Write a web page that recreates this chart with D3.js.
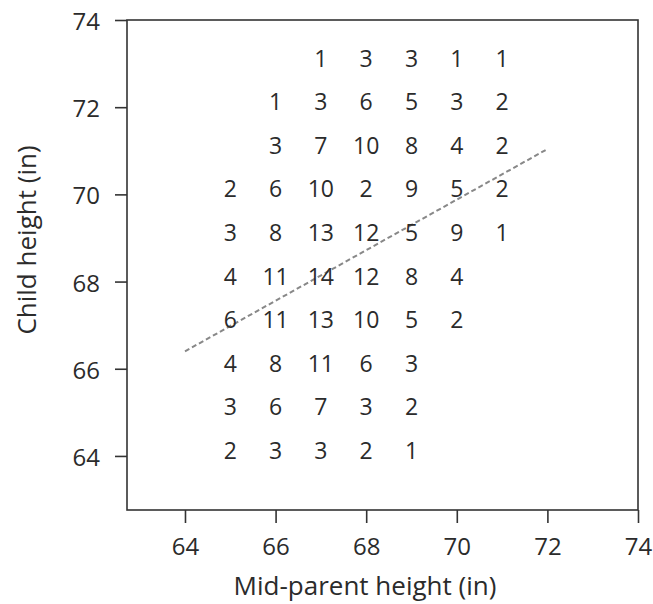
<!DOCTYPE html>
<html>
<head>
<meta charset="utf-8">
<script src="https://cdn.jsdelivr.net/npm/d3@7"></script>
<style>
  body { margin: 0; background: #fff; }
  text { font-family: "Open Sans", "Noto Sans", sans-serif; fill: #2b2b2b; }
</style>
</head>
<body>
<div id="chart"></div>
<script>
// Mid-parent heights (columns) and child heights (rows)
const parentHeights = [65, 66, 67, 68, 69, 70, 71];
const childHeights = [73, 72, 71, 70, 69, 68, 67, 66, 65, 64];

// Counts per row, top row first; null = no families in that cell
const counts = [
  [null, null, 1, 3, 3, 1, 1],
  [null, 1, 3, 6, 5, 3, 2],
  [null, 3, 7, 10, 8, 4, 2],
  [2, 6, 10, 2, 9, 5, 2],
  [3, 8, 13, 12, 5, 9, 1],
  [4, 11, 14, 12, 8, 4, null],
  [6, 11, 13, 10, 5, 2, null],
  [4, 8, 11, 6, 3, null, null],
  [3, 6, 7, 3, 2, null, null],
  [2, 3, 3, 2, 1, null, null]
];

const xTicks = [64, 66, 68, 70, 72, 74];
const yTicks = [64, 66, 68, 70, 72, 74];

// Fitted line end points
const fitLine = [
  { x: 64, y: 66.4 },
  { x: 72, y: 71.04 }
];

const W = 653, H = 604;
const margin = { top: 20, right: 15, bottom: 94, left: 127 };
const width = W - margin.left - margin.right;
const height = H - margin.top - margin.bottom;

const svg = d3.select("#chart")
  .append("svg")
  .attr("width", W)
  .attr("height", H);

const g = svg.append("g")
  .attr("transform", `translate(${margin.left},${margin.top})`);

const x = d3.scaleLinear().domain([62.72, 74]).range([0, width]);
const y = d3.scaleLinear().domain([62.76, 74]).range([height, 0]);

// Frame
g.append("rect")
  .attr("width", width)
  .attr("height", height)
  .attr("fill", "none")
  .attr("stroke", "#333")
  .attr("stroke-width", 1.6);

// Axes
const xAxis = g.append("g")
  .attr("transform", `translate(0,${height})`)
  .call(d3.axisBottom(x).tickValues(xTicks).tickSize(13).tickPadding(15));

const yAxis = g.append("g")
  .call(d3.axisLeft(y).tickValues(yTicks).tickSize(12).tickPadding(15));

[xAxis, yAxis].forEach(a => {
  a.select(".domain").remove();
  a.selectAll(".tick line").attr("stroke", "#333").attr("stroke-width", 1.6);
  a.selectAll(".tick text")
    .style("font-family", '"Open Sans", "Noto Sans", sans-serif')
    .style("font-size", "24px")
    .attr("fill", "#2b2b2b");
});
yAxis.selectAll(".tick text").attr("dy", "0.4em");

// Fitted dashed line
g.append("path")
  .datum(fitLine)
  .attr("d", d3.line().x(d => x(d.x)).y(d => y(d.y)))
  .attr("fill", "none")
  .attr("stroke", "#888")
  .attr("stroke-width", 2)
  .attr("stroke-dasharray", "5,3");

// Count labels
const cells = [];
counts.forEach((row, i) => {
  row.forEach((c, j) => {
    if (c !== null) cells.push({ px: parentHeights[j], cy: childHeights[i], n: c });
  });
});

g.selectAll("text.count")
  .data(cells)
  .enter()
  .append("text")
  .attr("class", "count")
  .attr("x", d => x(d.px))
  .attr("y", d => y(d.cy) - 6)
  .attr("text-anchor", "middle")
  .attr("dominant-baseline", "central")
  .style("font-size", "23px")
  .text(d => d.n);

// Axis titles
svg.append("text")
  .attr("x", 365)
  .attr("y", 595)
  .attr("text-anchor", "middle")
  .style("font-size", "26px")
  .text("Mid-parent height (in)");

svg.append("text")
  .attr("transform", `translate(36,240) rotate(-90)`)
  .attr("text-anchor", "middle")
  .style("font-size", "26px")
  .text("Child height (in)");
</script>
</body>
</html>
